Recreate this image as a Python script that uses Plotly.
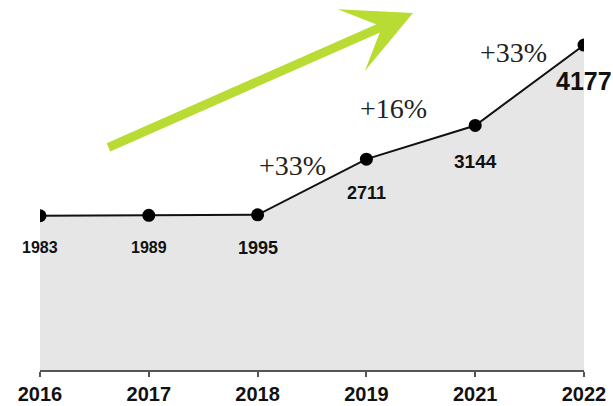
import plotly.graph_objects as go

years = ["2016", "2017", "2018", "2019", "2021", "2022"]
values = [1983, 1989, 1995, 2711, 3144, 4177]
label_sizes = [16, 16, 18, 18, 19, 25]
label_offsets = [-32, -32, -33, -34, -36, -36]

growth_text = ["+33%", "+16%", "+33%"]
growth_x = [2.32, 3.25, 4.35]
growth_y = [2623, 3368, 4088]

fig = go.Figure()
fig.add_trace(go.Scatter(
    x=years, y=values, mode="lines+markers",
    fill="tozeroy", fillcolor="#e6e6e6",
    line=dict(color="#111111", width=2),
    marker=dict(color="#000000", size=13),
    hoverinfo="skip", showlegend=False, cliponaxis=True,
))

annotations = []
for i, (yr, v) in enumerate(zip(years, values)):
    annotations.append(dict(
        x=i, y=v, xref="x", yref="y", text=f"<b>{v}</b>", showarrow=False,
        yshift=label_offsets[i], xanchor="center", yanchor="middle",
        font=dict(family="Liberation Sans, Arial", size=label_sizes[i], color="#111111"),
    ))
for t, gx, gy in zip(growth_text, growth_x, growth_y):
    annotations.append(dict(
        x=gx, y=gy, xref="x", yref="y", text=t, showarrow=False,
        xanchor="center", yanchor="middle",
        font=dict(family="Liberation Serif, Times New Roman", size=28, color="#222222"),
    ))
# green trend arrow
annotations.append(dict(
    x=(413 - 40) / 544, y=(370 - 13) / 350, xref="paper", yref="paper",
    text="", showarrow=True, ax=107 - 413, ay=148 - 13,
    arrowhead=3, arrowsize=1.25, arrowwidth=9, arrowcolor="#b8dc34",
    standoff=0,
))

fig.update_layout(
    width=613, height=406,
    margin=dict(l=40, r=29, t=20, b=36, autoexpand=False),
    paper_bgcolor="white", plot_bgcolor="white",
    annotations=annotations,
    xaxis=dict(
        type="category", range=[0, 5], showgrid=False, zeroline=False,
        automargin=False,
        showline=True, linecolor="#555555", linewidth=2,
        ticks="outside", ticklen=5, tickcolor="#555555", tickwidth=2,
        tickfont=dict(family="Liberation Sans, Arial", size=20, color="#111111", weight="bold"),
        ticklabelstandoff=0,
    ),
    yaxis=dict(range=[0, 4500], visible=False, showgrid=False, zeroline=False,
               automargin=False),
)

fig.write_html("out.html")
